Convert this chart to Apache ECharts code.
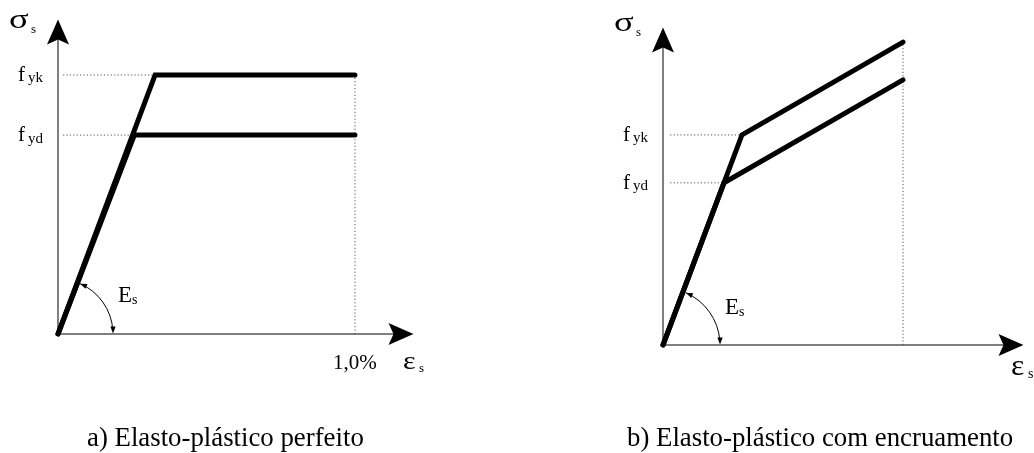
<!DOCTYPE html>
<html>
<head>
<meta charset="utf-8">
<script src="https://cdn.jsdelivr.net/npm/echarts@6/dist/echarts.min.js"></script>
<style>
  html, body { margin: 0; padding: 0; background: #fff; }
  #chart { width: 1034px; height: 453px; }
</style>
</head>
<body>
<div id="chart"></div>
<script>
// Idealised stress–strain diagrams of reinforcing steel (strain in %, stress in MPa-like units)

// a) elastic – perfectly plastic
const perfectStrainK = [0, 0.327, 1.0];
const perfectStressK = [0, 500, 500];
const perfectStrainD = [0, 0.257, 1.0];
const perfectStressD = [0, 384, 384];

// b) elastic – plastic with strain hardening
const hardenStrainK = [0, 0.329, 1.0];
const hardenStressK = [0, 500, 721];
const hardenStrainD = [0, 0.254, 1.0];
const hardenStressD = [0, 386, 631];

// tick labels
const yieldSubscripts = ['yk', 'yd'];
const strainTickValues = [1.0];
const strainTickLabels = ['1,0%'];

const captions = ['a) Elasto-plástico perfeito', 'b) Elasto-plástico com encruamento'];

const SERIF = 'Liberation Serif, Times New Roman, serif';
const AXIS_COLOR = '#555';

const zip = (xs, ys) => xs.map((x, i) => [x, ys[i]]);

// rich styles for a letter with a subscript, both sitting near one baseline
function subRich(main, sub, subLine, subPad) {
  return {
    m: { fontFamily: SERIF, fontSize: main, lineHeight: main, verticalAlign: 'bottom', color: '#000' },
    s: { fontFamily: SERIF, fontSize: sub, lineHeight: subLine, verticalAlign: 'bottom', color: '#000',
         padding: [0, 0, 0, subPad || 0] }
  };
}

function valueAxis(gridIndex, max, extra) {
  return Object.assign({
    type: 'value', gridIndex, min: 0, max,
    axisLine: { show: true, lineStyle: { color: AXIS_COLOR, width: 1.5 } },
    axisTick: { show: false },
    splitLine: { show: false },
    axisLabel: { show: false }
  }, extra || {});
}

function yieldAxisLabel(kValue, dValue) {
  return {
    show: true,
    customValues: [dValue, kValue],
    margin: 15,
    formatter: v => '{m|f}{s|' + (v === kValue ? yieldSubscripts[0] : yieldSubscripts[1]) + '}',
    rich: subRich(21, 15, 22, 3)
  };
}

// arrowheads on both axes plus the E_s angle marker between the ε axis and the elastic branch
function axesDecoration(radius) {
  return function (params, api) {
    const rect = params.coordSys;
    const o = api.coord([api.value(0), api.value(1)]);
    const p = api.coord([api.value(2), api.value(3)]);
    const a = Math.atan2(p[1] - o[1], p[0] - o[0]);
    const a0 = a + 3 / radius;
    const L = 7, w = 2.6;
    const head = (tx, ty, dx, dy) => ({
      type: 'polygon',
      shape: { points: [
        [tx, ty],
        [tx - L * dx - w * dy, ty - L * dy + w * dx],
        [tx - L * dx + w * dy, ty - L * dy - w * dx]
      ] },
      style: { fill: '#000' }
    });
    // notched axis arrow: 25 long, 22 wide, tip 12.5 beyond the axis end
    const axisArrow = (ex, ey, dx, dy) => {
      const tx = ex + 12.5 * dx, ty = ey + 12.5 * dy;
      const bx = tx - 25 * dx, by = ty - 25 * dy;
      const nx = tx - 20 * dx, ny = ty - 20 * dy;
      return {
        type: 'polygon',
        shape: { points: [[tx, ty], [bx - 11 * dy, by + 11 * dx], [nx, ny], [bx + 11 * dy, by - 11 * dx]] },
        style: { fill: '#000' }
      };
    };
    const tx1 = o[0] + radius * Math.cos(a0), ty1 = o[1] + radius * Math.sin(a0);
    return {
      type: 'group',
      children: [
        axisArrow(rect.x, rect.y, 0, -1),
        axisArrow(rect.x + rect.width, rect.y + rect.height, 1, 0),
        { type: 'arc', shape: { cx: o[0], cy: o[1], r: radius, startAngle: a0, endAngle: -0.08, clockwise: true },
          style: { stroke: '#000', lineWidth: 1, fill: null } },
        head(o[0] + radius, o[1] - 0.5, 0, 1),
        head(tx1, ty1, Math.sin(a0), -Math.cos(a0))
      ]
    };
  };
}

const curveStyle = { color: '#000', width: 5, cap: 'round', join: 'miter' };
const guideStyle = { color: '#555', width: 1, type: [1.2, 2.2] };

function curve(xi, data) {
  return { type: 'line', xAxisIndex: xi, yAxisIndex: xi, data, showSymbol: false, symbol: 'none',
           lineStyle: curveStyle, clip: false, z: 3, silent: true };
}
function guide(xi, data) {
  return { type: 'line', xAxisIndex: xi, yAxisIndex: xi, data, showSymbol: false, symbol: 'none',
           lineStyle: guideStyle, clip: false, z: 1, silent: true };
}

const guideStartA = 0.017, guideStartB = 0.03;

function richText(x, yBottom, main, sub, rich) {
  return {
    type: 'text', x, y: yBottom, silent: true,
    style: { text: '{m|' + main + '}{s|' + sub + '}', rich,
             align: 'left', verticalAlign: 'bottom', textAlign: 'left', textVerticalAlign: 'bottom' }
  };
}
// single glyph placed by its baseline, optionally widened
function glyph(x, baseline, text, size, scaleX) {
  return {
    type: 'text', x, y: baseline - 0.3375 * size, scaleX: scaleX || 1, silent: true,
    style: { text, fill: '#000', font: size + 'px ' + SERIF, fontSize: size, fontFamily: SERIF,
             align: 'left', verticalAlign: 'middle', textAlign: 'left', textVerticalAlign: 'middle' }
  };
}

const option = {
  animation: false,
  backgroundColor: '#fff',
  grid: [
    { left: 58, top: 32, width: 343, height: 302, containLabel: false, outerBoundsMode: 'none' },
    { left: 663, top: 40, width: 348, height: 305, containLabel: false, outerBoundsMode: 'none' }
  ],
  xAxis: [
    valueAxis(0, 1.155, {
      axisLabel: {
        show: true, customValues: strainTickValues, margin: 19,
        formatter: v => strainTickLabels[strainTickValues.indexOf(v)],
        fontFamily: SERIF, fontSize: 21, lineHeight: 21, color: '#000'
      }
    }),
    valueAxis(1, 1.45)
  ],
  yAxis: [
    valueAxis(0, 583, { axisLabel: yieldAxisLabel(perfectStressK[1], perfectStressD[1]) }),
    valueAxis(1, 726, { axisLabel: yieldAxisLabel(hardenStressK[1], hardenStressD[1]) })
  ],
  series: [
    // dotted reference lines to the yield levels and to the 1,0% strain
    guide(0, [[guideStartA, perfectStressK[1]], zip(perfectStrainK, perfectStressK)[1]]),
    guide(0, [[guideStartA, perfectStressD[1]], zip(perfectStrainD, perfectStressD)[1]]),
    guide(0, [[perfectStrainK[2], 0], zip(perfectStrainK, perfectStressK)[2]]),
    guide(1, [[guideStartB, hardenStressK[1]], zip(hardenStrainK, hardenStressK)[1]]),
    guide(1, [[guideStartB, hardenStressD[1]], zip(hardenStrainD, hardenStressD)[1]]),
    guide(1, [[hardenStrainK[2], 0], zip(hardenStrainK, hardenStressK)[2]]),
    // stress–strain branches
    curve(0, zip(perfectStrainK, perfectStressK)),
    curve(0, zip(perfectStrainD, perfectStressD)),
    curve(1, zip(hardenStrainK, hardenStressK)),
    curve(1, zip(hardenStrainD, hardenStressD)),
    // axis arrows and E_s angle markers
    { type: 'custom', xAxisIndex: 0, yAxisIndex: 0, renderItem: axesDecoration(55), clip: false, z: 4, silent: true,
      encode: { x: [0, 2], y: [1, 3] },
      data: [[perfectStrainK[0], perfectStressK[0], perfectStrainK[1], perfectStressK[1]]] },
    { type: 'custom', xAxisIndex: 1, yAxisIndex: 1, renderItem: axesDecoration(57), clip: false, z: 4, silent: true,
      encode: { x: [0, 2], y: [1, 3] },
      data: [[hardenStrainK[0], hardenStressK[0], hardenStrainK[1], hardenStressK[1]]] }
  ],
  graphic: {
    elements: [
      glyph(9, 30, 'σ', 27, 1.35), glyph(31, 33.5, 's', 13),
      glyph(614, 33, 'σ', 27, 1.35), glyph(636, 36.5, 's', 13),
      glyph(403, 371, 'ε', 26, 1.15), glyph(419, 372.5, 's', 13),
      glyph(1011, 377, 'ε', 30, 1.05), glyph(1028, 379.5, 's', 14),
      richText(118, 307.7, 'E', 's', subRich(23, 14, 27, 0)),
      richText(725, 319.7, 'E', 's', subRich(23, 14, 27, 0)),
      glyph(87, 448, captions[0], 26.8),
      glyph(627, 448, captions[1], 26.8)
    ]
  }
};

const chart = echarts.init(document.getElementById('chart'), null, { renderer: 'canvas' });
chart.setOption(option);
</script>
</body>
</html>
